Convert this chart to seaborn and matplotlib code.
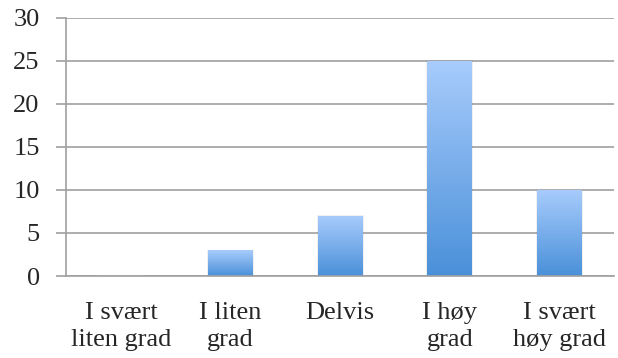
import matplotlib
matplotlib.use("Agg")
import matplotlib.pyplot as plt
import numpy as np
import pandas as pd
import seaborn as sns
from matplotlib.colors import LinearSegmentedColormap

categories = ["I svært\nliten grad", "I liten\ngrad", "Delvis", "I høy\ngrad", "I svært\nhøy grad"]
values = [0, 3, 7, 25, 10]

df = pd.DataFrame({"kategori": categories, "antall": values})

sns.set_style("white")
plt.rcParams["font.family"] = ["Liberation Serif", "DejaVu Serif"]

fig = plt.figure(figsize=(6.18, 3.58), dpi=100)
ax = fig.add_axes([0.107, 0.229, 0.887, 0.721])

sns.barplot(data=df, x="kategori", y="antall", ax=ax, width=0.41, color="#6fa8e8")

# gradient fill on the bars: light on top, darker at bottom
cmap = LinearSegmentedColormap.from_list("blue_grad", ["#4a90d9", "#a8ccfc"])
grad = np.linspace(0, 1, 256).reshape(-1, 1)
for bar in ax.patches:
    x, y = bar.get_x(), bar.get_y()
    w, h = bar.get_width(), bar.get_height()
    if h <= 0:
        continue
    # soft shadow
    ax.add_patch(plt.Rectangle((x - 0.01, y), w + 0.02, h + 0.05, color="#000000",
                               alpha=0.06, zorder=1.5, lw=0))
    bar.set_facecolor("none")
    bar.set_edgecolor("none")
    im = ax.imshow(grad, extent=[x, x + w, y, y + h], origin="lower", aspect="auto",
                   cmap=cmap, zorder=2)
    im.set_clip_path(bar)

ax.set_xlim(-0.5, len(categories) - 0.5)
ax.set_ylim(0, 30)
ax.set_yticks(range(0, 31, 5))
ax.yaxis.grid(True, color="#a0a0a0", linewidth=1.2)
ax.set_axisbelow(True)

ax.set_xticks(np.arange(len(categories)))
ax.set_xticklabels(categories, fontsize=19, linespacing=1.28)
ax.set_xticks(np.arange(len(categories) + 1) - 0.5, minor=True)
ax.tick_params(axis="x", which="major", length=0, pad=19)
ax.tick_params(axis="x", which="minor", length=7, width=1.2, color="#a0a0a0", direction="out")
ax.tick_params(axis="y", length=7, width=1.2, color="#a0a0a0", labelsize=19, pad=12, left=True)

ax.set_xlabel("")
ax.set_ylabel("")
for s in ["top", "right"]:
    ax.spines[s].set_visible(False)
for s in ["left", "bottom"]:
    ax.spines[s].set_color("#a0a0a0")
    ax.spines[s].set_linewidth(1.2)

fig.savefig("out.png", dpi=100)
